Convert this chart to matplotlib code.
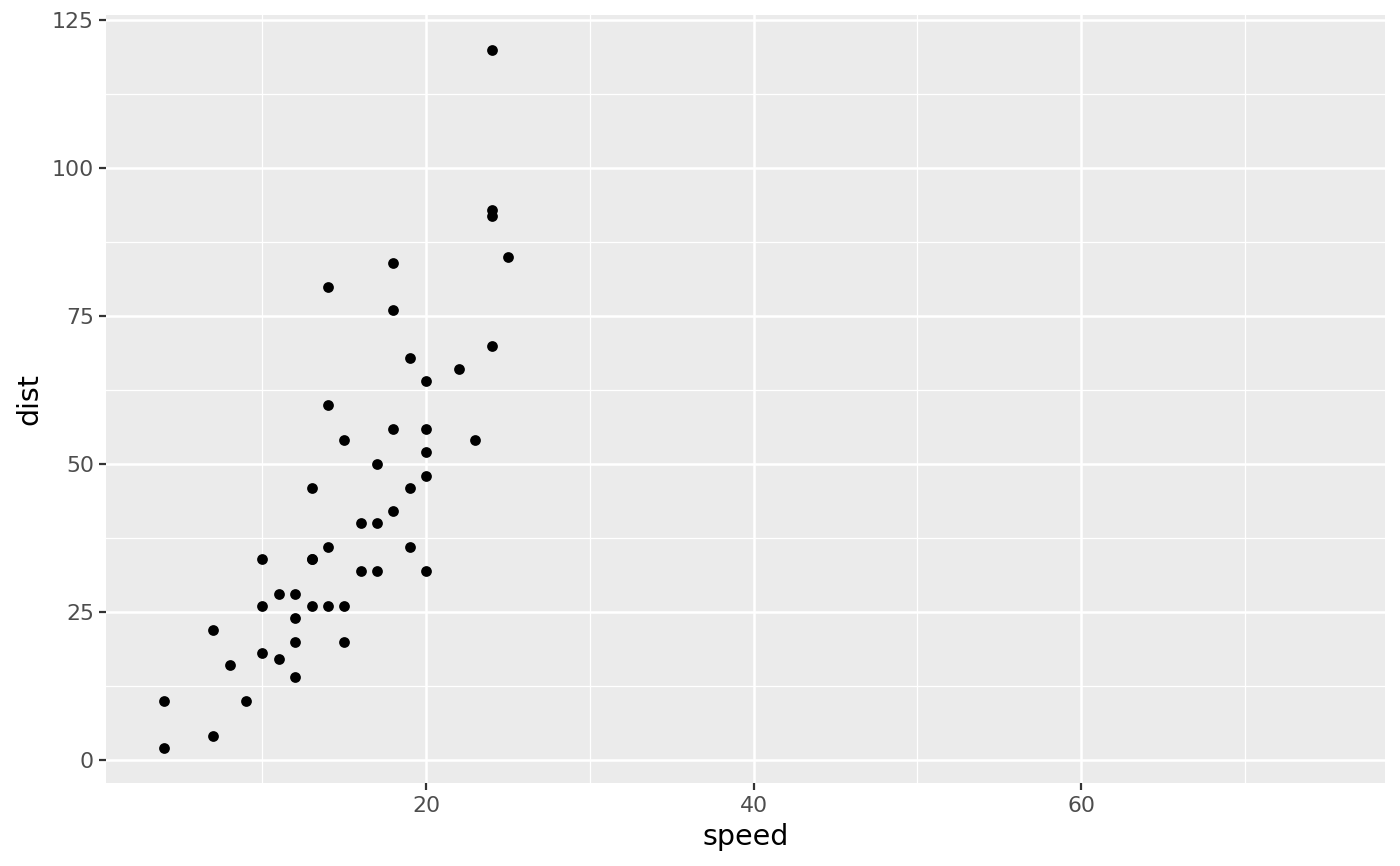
import matplotlib
matplotlib.use("Agg")
import matplotlib.pyplot as plt
from matplotlib.ticker import MultipleLocator

speed = [4, 4, 7, 7, 8, 9, 10, 10, 10, 11, 11, 12, 12, 12, 12, 13, 13, 13, 13, 14,
         14, 14, 14, 15, 15, 15, 16, 16, 17, 17, 17, 18, 18, 18, 18, 19, 19, 19, 20, 20,
         20, 20, 20, 22, 23, 24, 24, 24, 24, 25]
dist = [2, 10, 4, 22, 16, 10, 18, 26, 34, 17, 28, 14, 20, 24, 28, 26, 34, 34, 46, 26,
        36, 60, 80, 20, 26, 54, 32, 40, 32, 40, 50, 42, 56, 76, 84, 36, 46, 68, 32, 48,
        52, 56, 64, 66, 54, 70, 92, 93, 120, 85]
x_ticks = [20, 40, 60]
y_ticks = [0, 25, 50, 75, 100, 125]

fig = plt.figure(figsize=(14, 8.66), dpi=100)
W, H = 1400, 866
ax = fig.add_axes([106 / W, 1 - 783 / H, (1385 - 106) / W, (783 - 15) / H])
ax.set_facecolor("#EBEBEB")
for s in ax.spines.values():
    s.set_visible(False)

xlo, xhi = 4, 75
xr = xhi - xlo
ax.set_xlim(xlo - 0.05 * xr, xhi + 0.05 * xr)
yr = max(dist) - min(dist)
ax.set_ylim(min(dist) - 0.05 * yr, max(dist) + 0.05 * yr)

ax.set_xticks(x_ticks)
ax.set_yticks(y_ticks)
ax.xaxis.set_minor_locator(MultipleLocator(10))
ax.yaxis.set_minor_locator(MultipleLocator(12.5))
ax.grid(which="major", color="white", linewidth=1.8)
ax.grid(which="minor", color="white", linewidth=0.9)
ax.set_axisbelow(True)
ax.tick_params(which="major", length=4.7, width=1.6, color="#333333",
               labelcolor="#4D4D4D", labelsize=15.8, pad=3)
ax.tick_params(axis="x", which="major", pad=4.5)
ax.tick_params(axis="y", which="major", pad=4)
ax.tick_params(which="minor", length=0)

ax.scatter(speed, dist, s=60, color="black", zorder=3, linewidths=0)
ax.set_xlabel("speed", fontsize=20.5, labelpad=5)
ax.set_ylabel("dist", fontsize=20.5, labelpad=6)

fig.savefig("out.png", dpi=100)
